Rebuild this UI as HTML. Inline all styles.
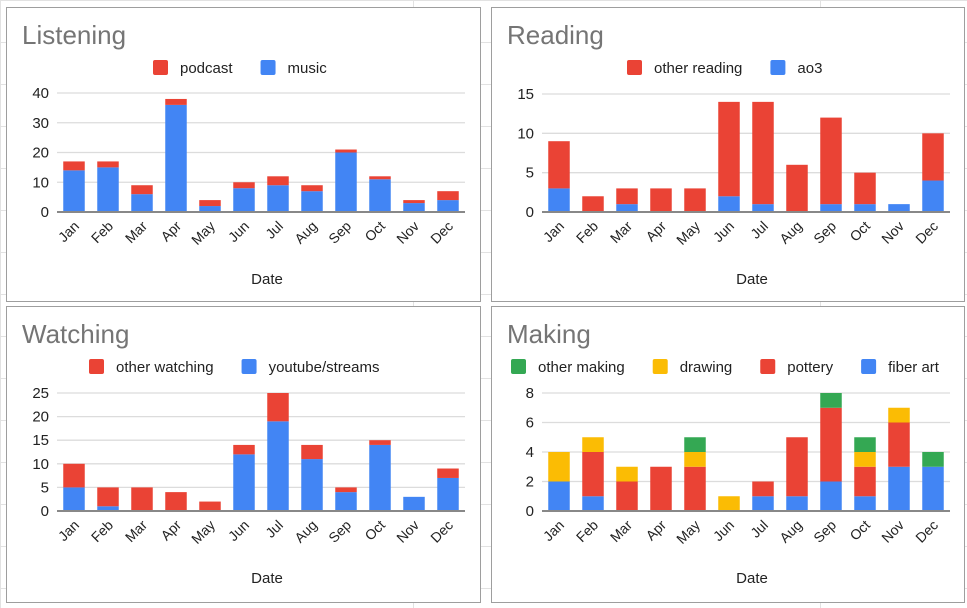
<!DOCTYPE html>
<html><head><meta charset="utf-8">
<style>
html,body{margin:0;padding:0;background:#fff;}
svg{display:block;font-family:"Liberation Sans",Arial,sans-serif;}
</style></head>
<body>
<svg id="page" width="967" height="608" viewBox="0 0 967 608" xmlns="http://www.w3.org/2000/svg">
<g id="grid"></g>
<g id="charts"></g>
</svg>
<script>
const months = ["Jan","Feb","Mar","Apr","May","Jun","Jul","Aug","Sep","Oct","Nov","Dec"];
const listeningMusic = [14,15,6,36,2,8,9,7,20,11,3,4];
const listeningPodcast = [3,2,3,2,2,2,3,2,1,1,1,3];
const listeningTicks = [0,10,20,30,40];
const readingAo3 = [3,0,1,0,0,2,1,0,1,1,1,4];
const readingOther = [6,2,2,3,3,12,13,6,11,4,0,6];
const readingTicks = [0,5,10,15];
const watchingYoutube = [5,1,0,0,0,12,19,11,4,14,3,7];
const watchingOther = [5,4,5,4,2,2,6,3,1,1,0,2];
const watchingTicks = [0,5,10,15,20,25];
const makingFiber = [2,1,0,0,0,0,1,1,2,1,3,3];
const makingPottery = [0,3,2,3,3,0,1,4,5,2,3,0];
const makingDrawing = [2,1,1,0,1,1,0,0,0,1,1,0];
const makingOther = [0,0,0,0,1,0,0,0,1,1,0,1];
const makingTicks = [0,2,4,6,8];

const NS="http://www.w3.org/2000/svg";
function mk(tag,attrs,parent){const e=document.createElementNS(NS,tag);for(const k in attrs)e.setAttribute(k,attrs[k]);parent.appendChild(e);return e;}

// spreadsheet grid background
const grid=document.getElementById('grid');
[0,413,820].forEach(x=>{const l=mk('line',{x1:x+0.5,y1:0,x2:x+0.5,y2:608,stroke:'#e2e2e2'},grid);

});
for(let y=0;y<608;y+=42){const l=mk('line',{x1:0,y1:y+0.5,x2:967,y2:y+0.5,stroke:'#e2e2e2'},grid);

}

const charts=document.getElementById('charts');
function chart(cfg){
  const g=mk('g',{},charts);
  
  
  const bg=mk('rect',{x:cfg.bx+0.5,y:cfg.by+0.5,width:cfg.bw,height:cfg.bh,fill:'#fff',stroke:'#9e9e9e'},g);
  
  
  const t=mk('text',{x:cfg.bx+16,y:cfg.by+37,'font-size':26,fill:'#757575'},g);
  t.textContent=cfg.title;
  
  
  // legend
  let lx=cfg.legendX;
  cfg.legend.forEach(le=>{
    const lg=mk('g',{},g);
    
    
    mk('rect',{x:lx,y:cfg.by+53,width:15,height:15,rx:2,fill:le.color},lg);
    const tx=mk('text',{x:lx+27,y:cfg.by+66,'font-size':15,fill:'#222'},lg);
    tx.textContent=le.label;
    lx+=27+tx.getComputedTextLength()+ 28;
  });
  const x0=cfg.px, x1=cfg.px+408, y0=cfg.py0, yTop=cfg.pyTop;
  const maxV=cfg.ticks[cfg.ticks.length-1];
  const ys=v=>y0-(v/maxV)*(y0-yTop);
  const step=(x1-x0)/months.length;
  const xs=i=>x0+step*(i+0.5);
  cfg.ticks.forEach(tv=>{
    if(tv!==0){const gl=mk('line',{x1:x0,x2:x1,y1:ys(tv),y2:ys(tv),stroke:'#dcdcdc','stroke-width':1.3},g);
    
    }
    const tl=mk('text',{x:x0-8,y:ys(tv)+5,'font-size':15,'text-anchor':'end',fill:'#222'},g);
    tl.textContent=tv;
    
    
  });
  // bars
  months.forEach((m,i)=>{
    let acc=0;
    cfg.series.forEach(s=>{
      const v=s.data[i];
      if(v>0){
        const r=mk('rect',{x:xs(i)-10.75,y:ys(acc+v),width:21.5,height:ys(acc)-ys(acc+v),fill:s.color},g);
        
        
      }
      acc+=v;
    });
    const ml=mk('text',{'font-size':14,'text-anchor':'end',fill:'#222',transform:`translate(${xs(i)+6},${y0+15}) rotate(-45)`},g);
    ml.textContent=m;
    
    
  });
  const ax=mk('line',{x1:x0,x2:x1,y1:y0,y2:y0,stroke:'#888','stroke-width':2},g);
  
  
  const xt=mk('text',{x:(x0+x1)/2+6,y:y0+72,'font-size':15,'text-anchor':'middle',fill:'#222'},g);
  xt.textContent='Date';
  
  
}
const BLUE='#4285f4',RED='#ea4335',YEL='#fbbc04',GRN='#34a853';
chart({name:'listening-chart',title:'Listening',bx:6,by:7,bw:474,bh:294,legendX:153,px:57,py0:212,pyTop:93,ticks:listeningTicks,
  legend:[{label:'podcast',color:RED},{label:'music',color:BLUE}],
  series:[{key:'music',data:listeningMusic,color:BLUE},{key:'podcast',data:listeningPodcast,color:RED}]});
chart({name:'reading-chart',title:'Reading',bx:491,by:7,bw:473,bh:294,legendX:627,px:542,py0:212,pyTop:94,ticks:readingTicks,
  legend:[{label:'other reading',color:RED},{label:'ao3',color:BLUE}],
  series:[{key:'ao3',data:readingAo3,color:BLUE},{key:'other-reading',data:readingOther,color:RED}]});
chart({name:'watching-chart',title:'Watching',bx:6,by:306,bw:474,bh:296,legendX:89,px:57,py0:511,pyTop:393,ticks:watchingTicks,
  legend:[{label:'other watching',color:RED},{label:'youtube/streams',color:BLUE}],
  series:[{key:'youtube',data:watchingYoutube,color:BLUE},{key:'other-watching',data:watchingOther,color:RED}]});
chart({name:'making-chart',title:'Making',bx:491,by:306,bw:473,bh:296,legendX:511,px:542,py0:511,pyTop:393,ticks:makingTicks,
  legend:[{label:'other making',color:GRN},{label:'drawing',color:YEL},{label:'pottery',color:RED},{label:'fiber art',color:BLUE}],
  series:[{key:'fiber-art',data:makingFiber,color:BLUE},{key:'pottery',data:makingPottery,color:RED},{key:'drawing',data:makingDrawing,color:YEL},{key:'other-making',data:makingOther,color:GRN}]});
</script>
</body></html>
